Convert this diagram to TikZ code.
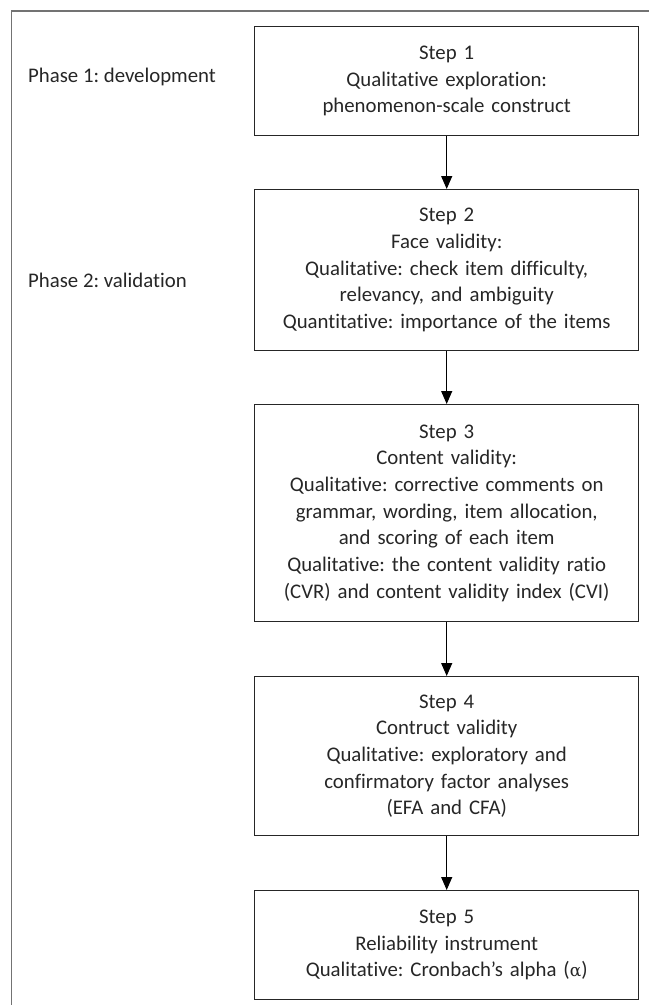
\documentclass[tikz,border=0pt]{standalone}
\usepackage{fontspec}
\setmainfont{Carlito}[Ligatures={NoCommon}]
\usetikzlibrary{arrows.meta}
\frenchspacing
\begin{document}
\begin{tikzpicture}[x=1pt,y=-1pt,
  stepbox/.style={draw=black!85, line width=1.4pt, minimum width=384pt, inner sep=0pt,
    text width=380pt, align=center, anchor=north west, text=black!85,
    font=\fontsize{20.8pt}{26.7pt}\selectfont},
  phase/.style={anchor=west, inner sep=0pt, text=black!85, font=\fontsize{20.8pt}{26.7pt}\selectfont},
  conn/.style={draw=black, line width=1.2pt, -{Triangle[width=11pt,length=13pt]}},
  frame/.style={draw=black!55, line width=1.4pt}]
\useasboundingbox (0,0) rectangle (649,1005);
\coordinate (fb) at (11.5,1005);
\coordinate (ft) at (11.5,11);
\coordinate (fr) at (649,11);
\draw[frame] (fb) -- (ft) -- (fr);

\node[stepbox, minimum height=109pt] (s1) at (254,26) {Step 1\\Qualitative exploration:\\phenomenon-scale construct};
\node[stepbox, minimum height=161pt] (s2) at (254,189) {Step 2\\Face validity:\\Qualitative: check item difficulty,\\relevancy, and ambiguity\\Quantitative: importance of the items};
\node[stepbox, minimum height=217pt] (s3) at (254,404) {Step 3\\Content validity:\\Qualitative: corrective comments on\\grammar, wording, item allocation,\\and scoring of each item\\Qualitative: the content validity ratio\\(CVR) and content validity index (CVI)};
\node[stepbox, minimum height=159pt] (s4) at (254,676) {Step 4\\Contruct validity\\Qualitative: exploratory and\\confirmatory factor analyses\\(EFA and CFA)};
\node[stepbox, minimum height=109pt] (s5) at (254,890) {Step 5\\Reliability instrument\\Qualitative: Cronbach’s alpha ({\fontspec{DejaVu Serif}\fontsize{17pt}{26.7pt}\selectfont α})};

\node[phase] (p1) at (28,77) {Phase 1: development};
\node[phase] (p2) at (28,280) {Phase 2: validation};

\draw[conn] (s1.south) -- (s2.north);
\draw[conn] (s2.south) -- (s3.north);
\draw[conn] (s3.south) -- (s4.north);
\draw[conn] (s4.south) -- (s5.north);
\end{tikzpicture}
\end{document}
